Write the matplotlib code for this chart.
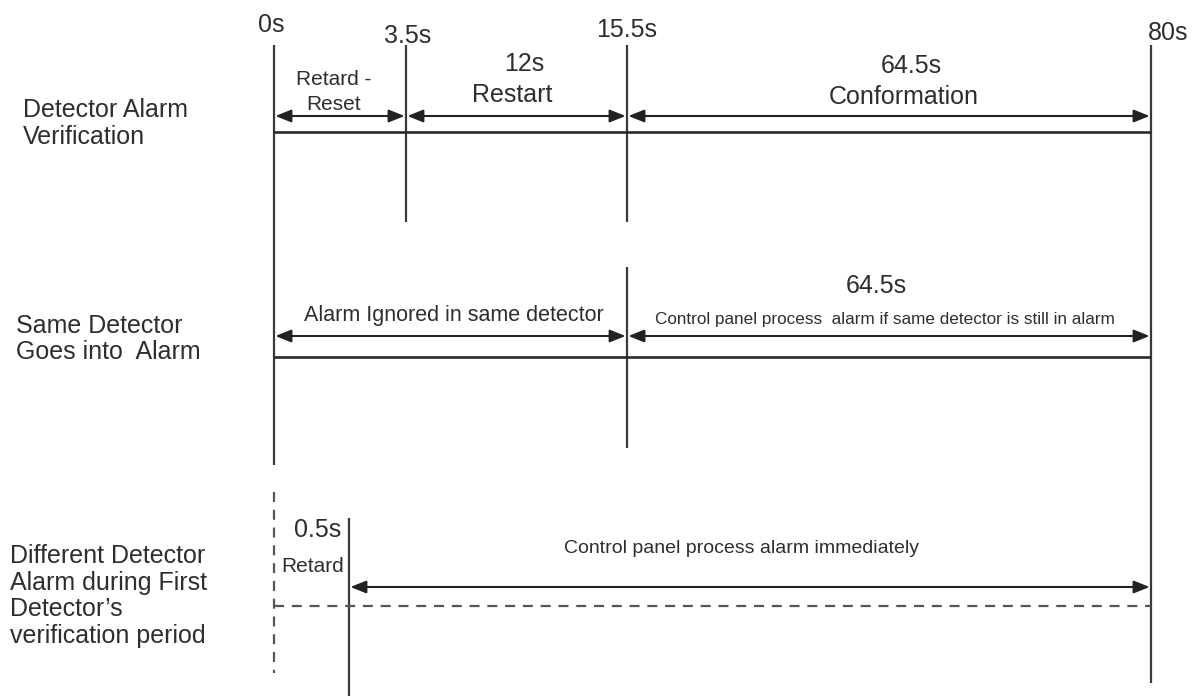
import numpy as np
import matplotlib
matplotlib.use("Agg")
import matplotlib.pyplot as plt

# ---------------- data ----------------
row_labels = [
    ["Detector Alarm", "Verification"],
    ["Same Detector", "Goes into  Alarm"],
    ["Different Detector", "Alarm during First", "Detector\u2019s", "verification period"],
]
milestone_times = [0, 3.5, 15.5, 80]
milestone_labels = ["0s", "3.5s", "15.5s", "80s"]

verif_starts = [0, 3.5, 15.5]
verif_ends = [3.5, 15.5, 80]
verif_durations = ["", "12s", "64.5s"]
verif_phases = ["Retard -\nReset", "Restart", "Conformation"]

same_starts = [0, 15.5]
same_ends = [15.5, 80]
same_durations = ["", "64.5s"]
same_phases = ["Alarm Ignored in same detector",
               "Control panel process  alarm if same detector is still in alarm"]

diff_retard_time = 0.5
diff_retard_label = "0.5s"
diff_retard_phase = "Retard"
diff_start = 0.5
diff_end = 80
diff_phase = "Control panel process alarm immediately"

# ---------------- layout ----------------
W, H = 1201, 696
knot_t = sorted(set(milestone_times + [diff_retard_time]))
knot_px = [274, 349, 406, 627, 1151]          # non-proportional time axis
s_lo = (knot_px[1] - knot_px[0]) / (knot_t[1] - knot_t[0])
s_hi = (knot_px[-1] - knot_px[-2]) / (knot_t[-1] - knot_t[-2])


def fwd(t):
    t = np.asarray(t, float)
    x = np.interp(t, knot_t, knot_px)
    x = np.where(t < knot_t[0], knot_px[0] + (t - knot_t[0]) * s_lo, x)
    x = np.where(t > knot_t[-1], knot_px[-1] + (t - knot_t[-1]) * s_hi, x)
    return x


def inv(x):
    x = np.asarray(x, float)
    t = np.interp(x, knot_px, knot_t)
    t = np.where(x < knot_px[0], knot_t[0] + (x - knot_px[0]) / s_lo, t)
    t = np.where(x > knot_px[-1], knot_t[-1] + (x - knot_px[-1]) / s_hi, t)
    return t


plt.rcParams["font.family"] = ["Liberation Sans", "DejaVu Sans"]
TEXT = "#2e2e2e"
LINE = "#3a3a3a"

fig = plt.figure(figsize=(W / 100, H / 100), dpi=100)
ax = fig.add_axes([0, 0, 1, 1])
ax.set_xscale("function", functions=(fwd, inv))
ax.set_xlim(float(inv(0)), float(inv(W)))
ax.set_ylim(H, 0)
ax.axis("off")


def ptext(x, y, s, size, ha="center", va="baseline"):
    ax.text(x / W, 1 - y / H, s, transform=ax.transAxes, ha=ha, va=va,
            fontsize=size, color=TEXT)


def arrow(t0, t1, y):
    ax.annotate("", xy=(t1, y), xytext=(t0, y),
                arrowprops=dict(arrowstyle="<|-|>,head_length=0.95,head_width=0.38",
                                mutation_scale=10, color="#222222", lw=1.5,
                                shrinkA=1, shrinkB=1))


# ---- left row labels ----
row_label_x = [23, 16, 10]
row_label_y = [[117, 144], [333, 359], [563, 590, 616, 643]]
for lines, x, ys in zip(row_labels, row_label_x, row_label_y):
    for s, y in zip(lines, ys):
        ptext(x, y, s, 18, ha="left")

# ---- milestone labels ----
ms_label_pos = [(271, 32), (408, 43), (627, 37), (1168, 40)]
for s, (x, y) in zip(milestone_labels, ms_label_pos):
    ptext(x, y, s, 18)

# ---- row 1 : detector alarm verification ----
v_ranges = [(45, 465), (45, 222), (45, 222), (45, 683)]
for t, (y0, y1) in zip(milestone_times, v_ranges):
    ax.vlines(t, y0, y1, color=LINE, lw=1.6)
for a, b in zip(verif_starts, verif_ends):
    arrow(a, b, 116)
ax.hlines(132, verif_starts[0], verif_ends[-1], color="#2a2a2a", lw=1.9)

ptext(334, 85, "Retard -", 15)
ptext(334, 110, "Reset", 15)
ptext(524, 71, verif_durations[1], 18)
ptext(512, 102, verif_phases[1], 18)
ptext(911, 73, verif_durations[2], 18)
ptext(904, 104, verif_phases[2], 18)

# ---- row 2 : same detector goes into alarm ----
ax.vlines(same_starts[1], 267, 448, color=LINE, lw=1.6)
for a, b in zip(same_starts, same_ends):
    arrow(a, b, 336)
ax.hlines(357, same_starts[0], same_ends[-1], color="#2a2a2a", lw=1.9)
ptext(876, 293, same_durations[1], 18)
ptext(454, 321, same_phases[0], 15.5)
ptext(885, 324, same_phases[1], 12.3)

# ---- row 3 : different detector ----
ax.vlines(0, 492, 673, color="#555555", lw=1.6, linestyles=(0, (4.5, 3.5)))
ax.vlines(diff_retard_time, 518, 696, color=LINE, lw=1.6)
arrow(diff_start, diff_end, 587)
ax.hlines(606, 0, diff_end, color="#555555", lw=1.6, linestyles=(0, (4.5, 3.5)))
ptext(318, 537, diff_retard_label, 18)
ptext(313, 572, diff_retard_phase, 15)
ptext(741, 553, diff_phase, 14)

fig.savefig("out.png", dpi=100, facecolor="white")
